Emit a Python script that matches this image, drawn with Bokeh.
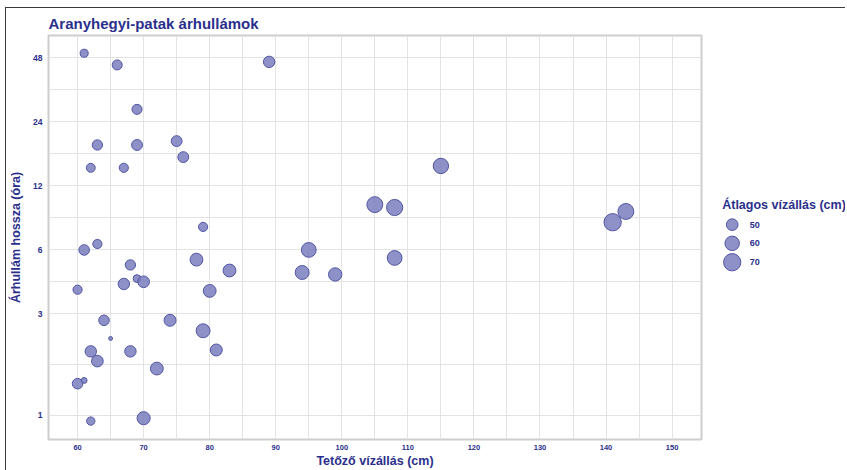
import math
from bokeh.plotting import figure
from bokeh.layouts import row
from bokeh.models import Range1d, FixedTicker, ColumnDataSource
from bokeh.core.properties import value
from bokeh.embed import file_html
from bokeh.resources import INLINE

# ---------------- data ----------------
title_text = "Aranyhegyi-patak árhullámok"
x_label = "Tetőző vízállás (cm)"
y_label = "Árhullám hossza (óra)"
legend_title = "Átlagos vízállás (cm)"

peak_cm = [61, 66, 89, 69, 63, 69, 75, 76, 62, 67, 79, 105, 108, 115, 143, 141,
           61, 63, 78, 68, 83, 95, 94, 99, 108, 69, 70, 67, 60, 80, 64, 74, 79,
           65, 62, 68, 81, 63, 72, 60, 61, 62, 70]
duration_h = [50.5, 44.5, 46, 27.5, 18.7, 18.7, 19.5, 16.4, 14.6, 14.6, 7.7, 9.8, 9.5, 14.9, 9.1, 8.1,
              6.0, 6.4, 5.4, 5.1, 4.8, 6.0, 4.7, 4.6, 5.5, 4.4, 4.25, 4.15, 3.9, 3.85, 2.8, 2.8, 2.5,
              2.3, 2.0, 2.0, 2.03, 1.8, 1.66, 1.41, 1.46, 0.94, 0.97]
avg_cm = [37, 44, 49, 44, 45, 47, 47, 47, 40, 41, 41, 65, 66, 63, 65, 70,
          46, 41, 54, 45, 54, 61, 58, 56, 61, 36, 50, 49, 41, 54, 46, 51, 58,
          22, 49, 49, 51, 50, 54, 46, 29, 38, 55]

x_ticks = [60, 70, 80, 90, 100, 110, 120, 130, 140, 150]
x_minor = [55, 65, 75, 85, 95, 105, 115, 125, 135, 145, 155]
y_ticks = [1, 3, 6, 12, 24, 48]
legend_values = [50, 60, 70]

# ---------------- style ----------------
NAVY = "#2b2f8c"
FILL = "#7a7ebe"
LINE = "#5256a3"
FONT = "Liberation Sans"

def diam(v):
    return 0.28 * v - 2.3

y_minor = [math.sqrt(a * b) for a, b in zip(y_ticks[:-1], y_ticks[1:])]

src = ColumnDataSource(dict(x=peak_cm, y=duration_h, avg=avg_cm,
                            size=[diam(v) for v in avg_cm]))

p = figure(width=703, height=462, x_range=Range1d(55.6, 154.45),
           y_range=Range1d(0.77, 61.2), y_axis_type="log",
           output_backend="svg", toolbar_location=None,
           min_border_left=42, min_border_right=8, min_border_top=26,
           min_border_bottom=30, title=title_text)

p.title.text_font = FONT
p.title.text_font_size = "15px"
p.title.text_font_style = "bold"
p.title.text_color = NAVY
p.title.align = "left"
p.title.standoff = 8

p.background_fill_color = "white"
p.border_fill_color = "white"
p.outline_line_color = "#cdcdcd"
p.outline_line_width = 2

p.xaxis.ticker = FixedTicker(ticks=x_ticks, minor_ticks=x_minor)
p.yaxis.ticker = FixedTicker(ticks=y_ticks, minor_ticks=y_minor)
p.yaxis.major_label_overrides = {t: str(t) for t in y_ticks}

for ax in (p.xaxis, p.yaxis):
    ax.axis_line_color = None
    ax.major_tick_line_color = None
    ax.minor_tick_line_color = None
    ax.major_tick_out = 0
    ax.major_tick_in = 0
    ax.minor_tick_out = 0
    ax.minor_tick_in = 0
    ax.major_label_text_font = FONT
    ax.major_label_text_font_style = "bold"
    ax.major_label_text_color = NAVY
    ax.axis_label_text_font = FONT
    ax.axis_label_text_font_style = "bold"
    ax.axis_label_text_font_size = "12.5px"
    ax.axis_label_text_color = NAVY

p.xaxis.major_label_text_font_size = "7.5px"
p.yaxis.major_label_text_font_size = "8.5px"
p.xaxis.major_label_standoff = 5
p.yaxis.major_label_standoff = 6
p.xaxis.axis_label = x_label
p.yaxis.axis_label = y_label
p.xaxis.axis_label_standoff = 1
p.yaxis.axis_label_standoff = 7

for g in (p.xgrid, p.ygrid):
    g.grid_line_color = "#e3e3e3"
    g.grid_line_width = 1
    g.minor_grid_line_color = "#e3e3e3"
    g.minor_grid_line_width = 1

p.scatter("x", "y", size="size", source=src, fill_color=FILL, fill_alpha=0.85,
          line_color=LINE, line_width=1)

# ---------------- legend panel ----------------
leg = figure(width=136, height=462, x_range=Range1d(0, 136), y_range=Range1d(462, 0),
             output_backend="svg", toolbar_location=None,
             x_axis_location=None, y_axis_location=None,
             min_border=0, outline_line_color=None)
leg.grid.visible = False
leg.background_fill_color = "white"
leg.border_fill_color = "white"

title_x, title_y = 12.7, 193.7
mark_x, label_x = 22.7, 40.3
row_y = [216.3, 237.7, 259.3]

leg.text(x=[title_x], y=[title_y], text=[legend_title], text_font=value(FONT),
         text_font_size="12.5px", text_font_style="bold", text_color=NAVY,
         text_baseline="middle", text_align="left")
leg.scatter(x=[mark_x] * len(legend_values), y=row_y,
            size=[diam(v) for v in legend_values], fill_color=FILL, fill_alpha=0.85,
            line_color=LINE, line_width=1)
leg.text(x=[label_x] * len(legend_values), y=row_y, text=[str(v) for v in legend_values],
         text_font=value(FONT), text_font_size="9px", text_font_style="bold",
         text_color=NAVY, text_baseline="middle", text_align="left")

layout = row(p, leg, margin=(7, 0, 0, 5),
             styles={"border-top": "1px solid #3a3a3a", "border-left": "1px solid #3a3a3a"})

open("out.html", "w").write(file_html(layout, INLINE))
